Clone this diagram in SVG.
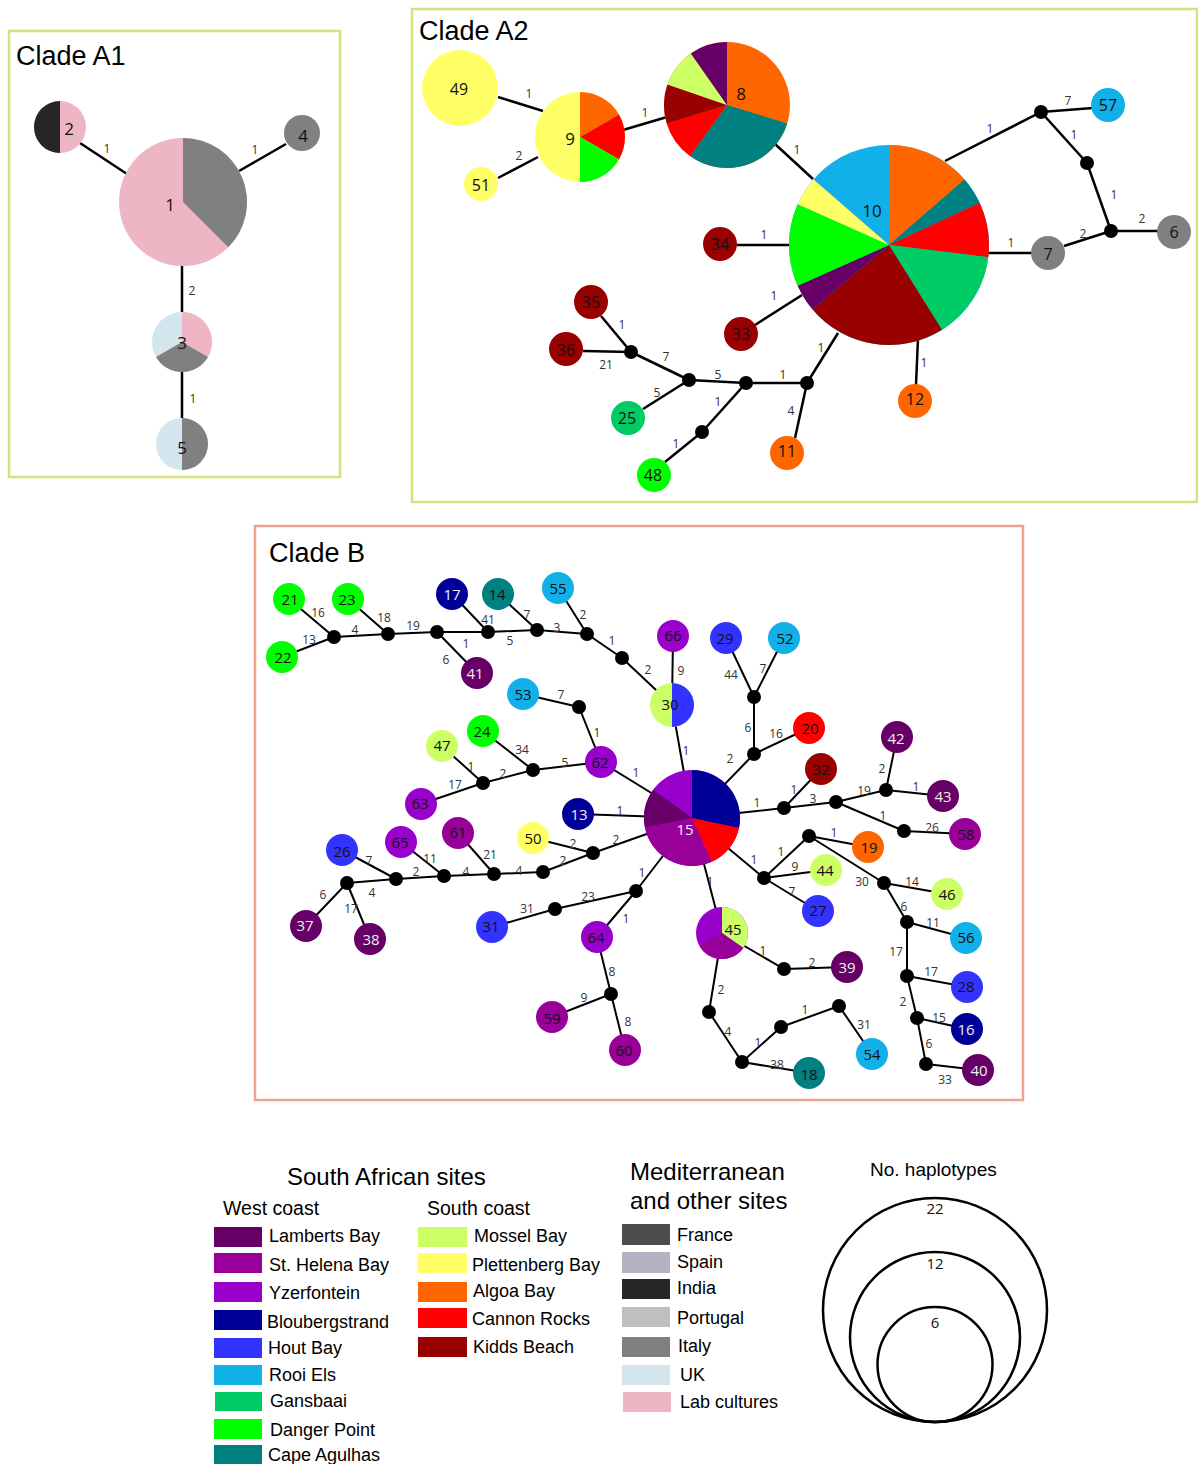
<svg xmlns="http://www.w3.org/2000/svg" width="1198" height="1464" viewBox="0 0 1198 1464">
<style>
.e{stroke:#000;stroke-width:2.5;fill:none}
.eb{stroke:#000;stroke-width:2;fill:none}
.j{fill:#000}
.lb{font-family:"Open Sans",sans-serif;font-size:12px;fill:#333;text-anchor:middle;dominant-baseline:central}
.nl{font-family:"Open Sans",sans-serif;font-size:15px;fill:#111;text-anchor:middle;dominant-baseline:central}
.nw{fill:#eee}
.tt{font-family:"Liberation Sans",Arial,sans-serif;font-size:27px;fill:#000}
.lg{font-family:"Liberation Sans",Arial,sans-serif;font-size:18px;fill:#000}
.lh{font-family:"Liberation Sans",Arial,sans-serif;font-size:24px;fill:#000}
.ls{font-family:"Liberation Sans",Arial,sans-serif;font-size:19.5px;fill:#000}
.boxA{fill:none;stroke:#D4E27A;stroke-width:2.5}
.boxB{fill:none;stroke:#EFA38B;stroke-width:2.5}
.LB{fill:#660066}.SH{fill:#990099}.YZ{fill:#9900CC}.BL{fill:#000099}.HB{fill:#3333FF}.RE{fill:#12B0E8}.GA{fill:#00CC66}.DP{fill:#00FF00}.CA{fill:#008080}
.MB{fill:#CCFF66}.PB{fill:#FFFF66}.AB{fill:#FF6600}.CR{fill:#FF0000}.KB{fill:#990000}
.FR{fill:#4D4D4D}.SP{fill:#B3B3C3}.IN{fill:#262626}.PT{fill:#BFBFBF}.IT{fill:#808080}.UK{fill:#D3E6EE}.LC{fill:#EEB5C5}
.sc{fill:none;stroke:#000;stroke-width:2.5}
</style>

<rect class="boxA" x="9" y="31" width="331" height="446"/>
<rect class="boxA" x="412" y="9" width="785" height="493"/>
<rect class="boxB" x="255" y="526" width="768" height="574"/>
<text class="tt" x="16" y="65">Clade A1</text>
<text class="tt" x="419" y="40">Clade A2</text>
<text class="tt" x="269" y="562">Clade B</text>

<g id="connectors">
<!-- A1 -->
<line class="e" x1="80" y1="143" x2="127" y2="174"/>
<line class="e" x1="239" y1="171" x2="286" y2="144"/>
<line class="e" x1="182" y1="264" x2="182" y2="312"/>
<line class="e" x1="182" y1="372" x2="182" y2="418"/>
<!-- A2 -->
<line class="e" x1="498" y1="97" x2="543" y2="111"/>
<line class="e" x1="498" y1="178" x2="538" y2="157"/>
<line class="e" x1="623" y1="130" x2="667" y2="117"/>
<line class="e" x1="775" y1="144" x2="813" y2="179"/>
<line class="e" x1="945" y1="161" x2="1041" y2="112"/>
<line class="e" x1="1041" y1="112" x2="1093" y2="108"/>
<line class="e" x1="1041" y1="112" x2="1087" y2="163"/>
<line class="e" x1="1087" y1="163" x2="1111" y2="231"/>
<line class="e" x1="1111" y1="231" x2="1160" y2="231"/>
<line class="e" x1="1111" y1="231" x2="1064" y2="246"/>
<line class="e" x1="985" y1="253" x2="1034" y2="253"/>
<line class="e" x1="737" y1="245" x2="792" y2="245"/>
<line class="e" x1="755" y1="325" x2="802" y2="295"/>
<line class="e" x1="918" y1="338" x2="916" y2="385"/>
<line class="e" x1="838" y1="333" x2="807" y2="383"/>
<line class="e" x1="807" y1="383" x2="795" y2="438"/>
<line class="e" x1="807" y1="383" x2="746" y2="383"/>
<line class="e" x1="746" y1="383" x2="689" y2="380"/>
<line class="e" x1="746" y1="383" x2="702" y2="432"/>
<line class="e" x1="702" y1="432" x2="665" y2="462"/>
<line class="e" x1="689" y1="380" x2="643" y2="409"/>
<line class="e" x1="689" y1="380" x2="631" y2="352"/>
<line class="e" x1="631" y1="352" x2="601" y2="316"/>
<line class="e" x1="631" y1="352" x2="583" y2="351"/>
<!-- B -->
<path class="eb" d="M289,599L334,637M282,657L334,637M334,637L388,634M348,599L388,634M388,634L437,632M437,632L477,673M437,632L488,632M452,594L488,632M488,632L537,630M498,594L537,630M537,630L587,634M558,588L587,634M587,634L622,658M622,658L672,705M673,636L672,705M672,705L692,818"/>
<path class="eb" d="M523,694L579,707M579,707L601,762M483,731L533,770M533,770L601,762M483,783L533,770M442,746L483,783M483,783L421,804M601,762L692,818"/>
<path class="eb" d="M692,818L754,754M754,754L754,697M754,697L726,638M754,697L784,638M754,754L809,728M692,818L784,808M784,808L821,769M784,808L836,802M836,802L886,790M886,790L897,737M886,790L943,796M836,802L904,831M904,831L965,834"/>
<path class="eb" d="M578,814L692,818M593,853L692,818M533,838L593,853M543,872L593,853M494,874L543,872M458,833L494,874M444,876L494,874M401,842L444,876M396,879L444,876M342,850L396,879M347,883L396,879M347,883L306,926M347,883L370,939"/>
<path class="eb" d="M692,818L636,891M636,891L555,909M555,909L492,927M636,891L597,937M597,937L611,994M611,994L552,1017M611,994L625,1050"/>
<path class="eb" d="M692,818L764,878M764,878L809,836M809,836L868,847M764,878L826,870M764,878L818,911M809,836L884,883M884,883L947,894M884,883L907,922M907,922L966,938M907,922L907,976M907,976L967,987M907,976L917,1018M917,1018L967,1029M917,1018L926,1064M926,1064L978,1070"/>
<path class="eb" d="M692,818L722,933M722,933L784,969M784,969L847,967M722,933L709,1012M709,1012L742,1062M742,1062L809,1073M742,1062L781,1027M781,1027L839,1006M839,1006L872,1054"/>

<!-- edge labels A1 -->
<text class="lb" x="107" y="148">1</text>
<text class="lb" x="255" y="149">1</text>
<text class="lb" x="192" y="290">2</text>
<text class="lb" x="193" y="398">1</text>
<!-- edge labels A2 -->
<text class="lb" x="529" y="93">1</text>
<text class="lb" x="519" y="155">2</text>
<text class="lb" x="645" y="112">1</text>
<text class="lb" x="797" y="149">1</text>
<text class="lb" x="990" y="128">1</text>
<text class="lb" x="1068" y="100">7</text>
<text class="lb" x="1074" y="134">1</text>
<text class="lb" x="1114" y="194">1</text>
<text class="lb" x="1142" y="218">2</text>
<text class="lb" x="1083" y="233">2</text>
<text class="lb" x="1011" y="242">1</text>
<text class="lb" x="764" y="234">1</text>
<text class="lb" x="774" y="295">1</text>
<text class="lb" x="924" y="362">1</text>
<text class="lb" x="821" y="347">1</text>
<text class="lb" x="791" y="410">4</text>
<text class="lb" x="783" y="374">1</text>
<text class="lb" x="718" y="374">5</text>
<text class="lb" x="718" y="401">1</text>
<text class="lb" x="676" y="443">1</text>
<text class="lb" x="657" y="392">5</text>
<text class="lb" x="666" y="356">7</text>
<text class="lb" x="622" y="324">1</text>
<text class="lb" x="606" y="364">21</text>
<!-- edge labels B -->
<text class="lb" x="318" y="612">16</text>
<text class="lb" x="309" y="639">13</text>
<text class="lb" x="355" y="629">4</text>
<text class="lb" x="384" y="617">18</text>
<text class="lb" x="413" y="625">19</text>
<text class="lb" x="488" y="619">41</text>
<text class="lb" x="527" y="614">7</text>
<text class="lb" x="557" y="627">3</text>
<text class="lb" x="583" y="614">2</text>
<text class="lb" x="466" y="643">1</text>
<text class="lb" x="510" y="640">5</text>
<text class="lb" x="446" y="659">6</text>
<text class="lb" x="612" y="640">1</text>
<text class="lb" x="648" y="669">2</text>
<text class="lb" x="561" y="694">7</text>
<text class="lb" x="597" y="732">1</text>
<text class="lb" x="522" y="749">34</text>
<text class="lb" x="565" y="762">5</text>
<text class="lb" x="471" y="766">1</text>
<text class="lb" x="503" y="773">2</text>
<text class="lb" x="455" y="784">17</text>
<text class="lb" x="636" y="772">1</text>
<text class="lb" x="681" y="670">9</text>
<text class="lb" x="731" y="674">44</text>
<text class="lb" x="763" y="668">7</text>
<text class="lb" x="748" y="727">6</text>
<text class="lb" x="776" y="733">16</text>
<text class="lb" x="730" y="758">2</text>
<text class="lb" x="686" y="750">1</text>
<text class="lb" x="757" y="802">1</text>
<text class="lb" x="794" y="789">1</text>
<text class="lb" x="813" y="798">3</text>
<text class="lb" x="864" y="790">19</text>
<text class="lb" x="882" y="768">2</text>
<text class="lb" x="916" y="786">1</text>
<text class="lb" x="883" y="815">1</text>
<text class="lb" x="932" y="827">26</text>
<text class="lb" x="620" y="810">1</text>
<text class="lb" x="616" y="839">2</text>
<text class="lb" x="573" y="843">2</text>
<text class="lb" x="563" y="860">2</text>
<text class="lb" x="519" y="870">4</text>
<text class="lb" x="490" y="854">21</text>
<text class="lb" x="466" y="871">4</text>
<text class="lb" x="430" y="858">11</text>
<text class="lb" x="416" y="871">2</text>
<text class="lb" x="369" y="860">7</text>
<text class="lb" x="372" y="892">4</text>
<text class="lb" x="323" y="894">6</text>
<text class="lb" x="351" y="908">17</text>
<text class="lb" x="642" y="872">1</text>
<text class="lb" x="588" y="896">23</text>
<text class="lb" x="527" y="908">31</text>
<text class="lb" x="626" y="918">1</text>
<text class="lb" x="612" y="971">8</text>
<text class="lb" x="584" y="997">9</text>
<text class="lb" x="628" y="1021">8</text>
<text class="lb" x="754" y="859">1</text>
<text class="lb" x="781" y="851">1</text>
<text class="lb" x="834" y="832">1</text>
<text class="lb" x="795" y="866">9</text>
<text class="lb" x="792" y="891">7</text>
<text class="lb" x="862" y="881">30</text>
<text class="lb" x="912" y="881">14</text>
<text class="lb" x="904" y="906">6</text>
<text class="lb" x="933" y="922">11</text>
<text class="lb" x="896" y="951">17</text>
<text class="lb" x="931" y="971">17</text>
<text class="lb" x="903" y="1001">2</text>
<text class="lb" x="939" y="1017">15</text>
<text class="lb" x="929" y="1043">6</text>
<text class="lb" x="945" y="1079">33</text>
<text class="lb" x="710" y="881">1</text>
<text class="lb" x="763" y="950">1</text>
<text class="lb" x="812" y="962">2</text>
<text class="lb" x="721" y="989">2</text>
<text class="lb" x="728" y="1031">4</text>
<text class="lb" x="758" y="1042">1</text>
<text class="lb" x="777" y="1064">38</text>
<text class="lb" x="805" y="1009">1</text>
<text class="lb" x="864" y="1024">31</text>
</g>

<!-- junctions -->
<g id="junctions">
<circle class="j" cx="1041" cy="112" r="7"/><circle class="j" cx="1087" cy="163" r="7"/><circle class="j" cx="1111" cy="231" r="7"/>
<circle class="j" cx="807" cy="383" r="7"/><circle class="j" cx="746" cy="383" r="7"/><circle class="j" cx="689" cy="380" r="7"/><circle class="j" cx="702" cy="432" r="7"/><circle class="j" cx="631" cy="352" r="7"/>
<circle class="j" cx="334" cy="637" r="7"/><circle class="j" cx="388" cy="634" r="7"/><circle class="j" cx="437" cy="632" r="7"/><circle class="j" cx="488" cy="632" r="7"/><circle class="j" cx="537" cy="630" r="7"/><circle class="j" cx="587" cy="634" r="7"/><circle class="j" cx="622" cy="658" r="7"/>
<circle class="j" cx="579" cy="707" r="7"/><circle class="j" cx="533" cy="770" r="7"/><circle class="j" cx="483" cy="783" r="7"/>
<circle class="j" cx="754" cy="697" r="7"/><circle class="j" cx="754" cy="754" r="7"/><circle class="j" cx="784" cy="808" r="7"/><circle class="j" cx="836" cy="802" r="7"/><circle class="j" cx="886" cy="790" r="7"/><circle class="j" cx="904" cy="831" r="7"/>
<circle class="j" cx="593" cy="853" r="7"/><circle class="j" cx="543" cy="872" r="7"/><circle class="j" cx="494" cy="874" r="7"/><circle class="j" cx="444" cy="876" r="7"/><circle class="j" cx="396" cy="879" r="7"/><circle class="j" cx="347" cy="883" r="7"/>
<circle class="j" cx="636" cy="891" r="7"/><circle class="j" cx="555" cy="909" r="7"/><circle class="j" cx="611" cy="994" r="7"/>
<circle class="j" cx="764" cy="878" r="7"/><circle class="j" cx="809" cy="836" r="7"/><circle class="j" cx="884" cy="883" r="7"/><circle class="j" cx="907" cy="922" r="7"/><circle class="j" cx="907" cy="976" r="7"/><circle class="j" cx="917" cy="1018" r="7"/><circle class="j" cx="926" cy="1064" r="7"/>
<circle class="j" cx="784" cy="969" r="7"/><circle class="j" cx="709" cy="1012" r="7"/><circle class="j" cx="742" cy="1062" r="7"/><circle class="j" cx="781" cy="1027" r="7"/><circle class="j" cx="839" cy="1006" r="7"/>
</g>

<!-- Clade A1 nodes -->
<g id="n1"><circle class="LC" cx="183" cy="202" r="64"/><path class="IT" d="M183,202L183,138A64,64 0 0 1 228.25,247.25Z"/><text class="nl" x="170" y="204" style="font-size:17px">1</text></g>
<g id="n2"><circle class="LC" cx="60" cy="127" r="26"/><path class="IN" d="M60,101A26,26 0 0 0 60,153Z"/><text class="nl" x="69" y="128" style="font-size:17px">2</text></g>
<g id="n4"><circle class="IT" cx="302" cy="133" r="18"/><text class="nl" x="303" y="135" style="font-size:17px">4</text></g>
<g id="n3"><circle class="UK" cx="182" cy="342" r="30"/><path class="LC" d="M182,342L182,312A30,30 0 0 1 207.98,357Z"/><path class="IT" d="M182,342L207.98,357A30,30 0 0 1 156.02,357Z"/><text class="nl" x="182" y="342" style="font-size:17px">3</text></g>
<g id="n5"><circle class="UK" cx="182" cy="444" r="26"/><path class="IT" d="M182,418A26,26 0 0 1 182,470Z"/><text class="nl" x="182" y="447" style="font-size:17px">5</text></g>

<!-- Clade A2 nodes -->
<g id="n49"><circle class="PB" cx="460" cy="88" r="38"/><text class="nl" x="459" y="89" style="font-size:16px">49</text></g>
<g id="n51"><circle class="PB" cx="481" cy="184" r="17"/><text class="nl" x="481" y="185" style="font-size:16px">51</text></g>
<g id="n9"><circle class="PB" cx="580" cy="137" r="45"/><path class="AB" d="M580,137L580,92A45,45 0 0 1 618.97,114.5Z"/><path class="CR" d="M580,137L618.97,114.5A45,45 0 0 1 618.97,159.5Z"/><path class="DP" d="M580,137L618.97,159.5A45,45 0 0 1 580,182Z"/><text class="nl" x="570" y="138" style="font-size:17px">9</text></g>
<g id="n8"><circle class="AB" cx="727" cy="105" r="63"/>
<path class="CA" d="M727,105L787.25,123.42A63,63 0 0 1 689.97,155.97Z"/>
<path class="CR" d="M727,105L689.97,155.97A63,63 0 0 1 666.75,123.42Z"/>
<path class="KB" d="M727,105L666.75,123.42A63,63 0 0 1 667.43,84.49Z"/>
<path class="MB" d="M727,105L667.43,84.49A63,63 0 0 1 690.86,53.39Z"/>
<path class="LB" d="M727,105L690.86,53.39A63,63 0 0 1 727,42Z"/>
<text class="nl" x="741" y="93" style="font-size:17px">8</text></g>
<g id="n10"><circle class="RE" cx="889" cy="245" r="100"/>
<path class="AB" d="M889,245L889,145A100,100 0 0 1 964.47,179.39Z"/>
<path class="CA" d="M889,245L964.47,179.39A100,100 0 0 1 979.63,202.74Z"/>
<path class="CR" d="M889,245L979.63,202.74A100,100 0 0 1 988.25,257.19Z"/>
<path class="GA" d="M889,245L988.25,257.19A100,100 0 0 1 941.99,329.8Z"/>
<path class="KB" d="M889,245L941.99,329.8A100,100 0 0 1 812.4,309.28Z"/>
<path class="LB" d="M889,245L812.4,309.28A100,100 0 0 1 797.65,285.67Z"/>
<path class="DP" d="M889,245L797.65,285.67A100,100 0 0 1 797.65,204.33Z"/>
<path class="PB" d="M889,245L797.65,204.33A100,100 0 0 1 813.53,179.39Z"/>
<text class="nl" x="872" y="210" style="font-size:17px">10</text></g>
<g id="n57"><circle class="RE" cx="1108" cy="105" r="17"/><text class="nl" x="1108" y="105" style="font-size:16px">57</text></g>
<g id="n6"><circle class="IT" cx="1174" cy="232" r="17"/><text class="nl" x="1174" y="232" style="font-size:16px">6</text></g>
<g id="n7"><circle class="IT" cx="1048" cy="253" r="17"/><text class="nl" x="1048" y="254" style="font-size:16px">7</text></g>
<g id="n34"><circle class="KB" cx="720" cy="244" r="17"/><text class="nl" x="720" y="244" style="font-size:16px">34</text></g>
<g id="n33"><circle class="KB" cx="741" cy="334" r="17"/><text class="nl" x="741" y="334" style="font-size:16px">33</text></g>
<g id="n12"><circle class="AB" cx="915" cy="401" r="17"/><text class="nl" x="915" y="399" style="font-size:16px">12</text></g>
<g id="n11"><circle class="AB" cx="787" cy="453" r="17"/><text class="nl" x="787" y="451" style="font-size:16px">11</text></g>
<g id="n48"><circle class="DP" cx="654" cy="475" r="17"/><text class="nl" x="653" y="475" style="font-size:16px">48</text></g>
<g id="n25"><circle class="GA" cx="628" cy="418" r="17"/><text class="nl" x="627" y="418" style="font-size:16px">25</text></g>
<g id="n35"><circle class="KB" cx="591" cy="302" r="17"/><text class="nl" x="591" y="302" style="font-size:16px">35</text></g>
<g id="n36"><circle class="KB" cx="566" cy="349" r="17"/><text class="nl" x="566" y="350" style="font-size:16px">36</text></g>

<!-- Clade B nodes -->
<g id="n21"><circle class="DP" cx="289" cy="599" r="16"/><text class="nl" x="290" y="599">21</text></g>
<g id="n23"><circle class="DP" cx="348" cy="599" r="16"/><text class="nl" x="347" y="599">23</text></g>
<g id="n22"><circle class="DP" cx="282" cy="657" r="16"/><text class="nl" x="283" y="657">22</text></g>
<g id="n17"><circle class="BL" cx="452" cy="594" r="16"/><text class="nl nw" x="452" y="594">17</text></g>
<g id="n14"><circle class="CA" cx="498" cy="594" r="16"/><text class="nl" x="497" y="594">14</text></g>
<g id="n55"><circle class="RE" cx="558" cy="588" r="16"/><text class="nl" x="558" y="588">55</text></g>
<g id="n41"><circle class="LB" cx="477" cy="673" r="16"/><text class="nl nw" x="475" y="673">41</text></g>
<g id="n53"><circle class="RE" cx="523" cy="694" r="16"/><text class="nl" x="523" y="694">53</text></g>
<g id="n24"><circle class="DP" cx="483" cy="731" r="16"/><text class="nl" x="482" y="731">24</text></g>
<g id="n47"><circle class="MB" cx="442" cy="746" r="16"/><text class="nl" x="442" y="745">47</text></g>
<g id="n62"><circle class="YZ" cx="601" cy="762" r="16"/><text class="nl" x="600" y="762">62</text></g>
<g id="n63"><circle class="YZ" cx="421" cy="804" r="16"/><text class="nl" x="420" y="803">63</text></g>
<g id="n66"><circle class="YZ" cx="673" cy="636" r="16"/><text class="nl" x="673" y="635">66</text></g>
<g id="n30"><circle class="MB" cx="672" cy="705" r="22"/><path class="HB" d="M672,683A22,22 0 0 1 672,727Z"/><text class="nl" x="670" y="704">30</text></g>
<g id="n29"><circle class="HB" cx="726" cy="638" r="16"/><text class="nl" x="725" y="638">29</text></g>
<g id="n52"><circle class="RE" cx="784" cy="638" r="16"/><text class="nl" x="785" y="638">52</text></g>
<g id="n20"><circle class="CR" cx="809" cy="728" r="16"/><text class="nl" x="810" y="728">20</text></g>
<g id="n32"><circle class="KB" cx="821" cy="769" r="16"/><text class="nl" x="821" y="769">32</text></g>
<g id="n42"><circle class="LB" cx="897" cy="737" r="16"/><text class="nl nw" x="896" y="738">42</text></g>
<g id="n43"><circle class="LB" cx="943" cy="796" r="16"/><text class="nl nw" x="943" y="796">43</text></g>
<g id="n58"><circle class="SH" cx="965" cy="834" r="16"/><text class="nl" x="966" y="834">58</text></g>
<g id="n15"><circle class="YZ" cx="692" cy="818" r="48"/>
<path class="BL" d="M692,818L692,770A48,48 0 0 1 738.95,827.98Z"/>
<path class="CR" d="M692,818L738.95,827.98A48,48 0 0 1 711.52,861.85Z"/>
<path class="SH" d="M692,818L711.52,861.85A48,48 0 0 1 644.88,827.16Z"/>
<path class="LB" d="M692,818L644.88,827.16A48,48 0 0 1 653.17,789.79Z"/>
<text class="nl nw" x="685" y="829">15</text></g>
<g id="n13"><circle class="BL" cx="578" cy="814" r="16"/><text class="nl nw" x="579" y="814">13</text></g>
<g id="n50"><circle class="PB" cx="533" cy="838" r="16"/><text class="nl" x="533" y="838">50</text></g>
<g id="n61"><circle class="SH" cx="458" cy="833" r="16"/><text class="nl" x="458" y="832">61</text></g>
<g id="n65"><circle class="YZ" cx="401" cy="842" r="16"/><text class="nl" x="400" y="842">65</text></g>
<g id="n26"><circle class="HB" cx="342" cy="850" r="16"/><text class="nl" x="342" y="851">26</text></g>
<g id="n37"><circle class="LB" cx="306" cy="926" r="16"/><text class="nl nw" x="305" y="925">37</text></g>
<g id="n38"><circle class="LB" cx="370" cy="939" r="16"/><text class="nl nw" x="371" y="939">38</text></g>
<g id="n31"><circle class="HB" cx="492" cy="927" r="16"/><text class="nl" x="491" y="926">31</text></g>
<g id="n64"><circle class="YZ" cx="597" cy="937" r="16"/><text class="nl" x="596" y="937">64</text></g>
<g id="n59"><circle class="SH" cx="552" cy="1017" r="16"/><text class="nl" x="552" y="1018">59</text></g>
<g id="n60"><circle class="SH" cx="625" cy="1050" r="16"/><text class="nl" x="624" y="1050">60</text></g>
<g id="n19"><circle class="AB" cx="868" cy="847" r="16"/><text class="nl" x="869" y="847">19</text></g>
<g id="n44"><circle class="MB" cx="826" cy="870" r="16"/><text class="nl" x="825" y="870">44</text></g>
<g id="n27"><circle class="HB" cx="818" cy="911" r="16"/><text class="nl" x="818" y="910">27</text></g>
<g id="n46"><circle class="MB" cx="947" cy="894" r="16"/><text class="nl" x="947" y="894">46</text></g>
<g id="n56"><circle class="RE" cx="966" cy="938" r="16"/><text class="nl" x="966" y="937">56</text></g>
<g id="n28"><circle class="HB" cx="967" cy="987" r="16"/><text class="nl" x="966" y="986">28</text></g>
<g id="n16"><circle class="BL" cx="967" cy="1029" r="16"/><text class="nl nw" x="966" y="1029">16</text></g>
<g id="n40"><circle class="LB" cx="978" cy="1070" r="16"/><text class="nl nw" x="979" y="1070">40</text></g>
<g id="n45"><circle class="YZ" cx="722" cy="933" r="26"/><path class="MB" d="M722,933L722,907A26,26 0 0 1 743.3,947.91Z"/><path class="SH" d="M722,933L743.3,947.91A26,26 0 0 1 699.48,946Z"/><text class="nl" x="733" y="929">45</text></g>
<g id="n39"><circle class="LB" cx="847" cy="967" r="16"/><text class="nl nw" x="847" y="967">39</text></g>
<g id="n18"><circle class="CA" cx="809" cy="1073" r="16"/><text class="nl" x="809" y="1074">18</text></g>
<g id="n54"><circle class="RE" cx="872" cy="1054" r="16"/><text class="nl" x="872" y="1054">54</text></g>

<!-- Legend -->
<g id="legend">
<text class="lh" x="287" y="1185">South African sites</text>
<text class="ls" x="223" y="1215">West coast</text>
<text class="ls" x="427" y="1215">South coast</text>
<rect class="LB" x="214" y="1227" width="48" height="20"/><text class="lg" x="269" y="1242">Lamberts Bay</text>
<rect class="SH" x="214" y="1253" width="48" height="20"/><text class="lg" x="269" y="1271">St. Helena Bay</text>
<rect class="YZ" x="214" y="1282" width="48" height="20"/><text class="lg" x="269" y="1299">Yzerfontein</text>
<rect class="BL" x="214" y="1310" width="48" height="20"/><text class="lg" x="267" y="1328">Bloubergstrand</text>
<rect class="HB" x="214" y="1338" width="48" height="20"/><text class="lg" x="268" y="1354">Hout Bay</text>
<rect class="RE" x="214" y="1365" width="48" height="20"/><text class="lg" x="269" y="1381">Rooi Els</text>
<rect class="GA" x="215" y="1392" width="47" height="19"/><text class="lg" x="270" y="1407">Gansbaai</text>
<rect class="DP" x="214" y="1419" width="48" height="20"/><text class="lg" x="270" y="1436">Danger Point</text>
<rect class="CA" x="214" y="1445" width="48" height="19"/><text class="lg" x="268" y="1461">Cape Agulhas</text>
<rect class="MB" x="418" y="1227" width="49" height="20"/><text class="lg" x="474" y="1242">Mossel Bay</text>
<rect class="PB" x="418" y="1253" width="49" height="20"/><text class="lg" x="472" y="1271">Plettenberg Bay</text>
<rect class="AB" x="418" y="1282" width="49" height="20"/><text class="lg" x="473" y="1297">Algoa Bay</text>
<rect class="CR" x="418" y="1308" width="49" height="20"/><text class="lg" x="472" y="1325">Cannon Rocks</text>
<rect class="KB" x="418" y="1337" width="49" height="20"/><text class="lg" x="473" y="1353">Kidds Beach</text>
<text class="lh" x="630" y="1180">Mediterranean</text>
<text class="lh" x="630" y="1209">and other sites</text>
<rect class="FR" x="622" y="1224" width="48" height="21"/><text class="lg" x="677" y="1241">France</text>
<rect class="SP" x="622" y="1252" width="48" height="21"/><text class="lg" x="677" y="1268">Spain</text>
<rect class="IN" x="622" y="1279" width="48" height="20"/><text class="lg" x="677" y="1294">India</text>
<rect class="PT" x="622" y="1307" width="48" height="20"/><text class="lg" x="677" y="1324">Portugal</text>
<rect class="IT" x="622" y="1337" width="48" height="20"/><text class="lg" x="678" y="1352">Italy</text>
<rect class="UK" x="622" y="1365" width="48" height="20"/><text class="lg" x="680" y="1381">UK</text>
<rect class="LC" x="623" y="1392" width="48" height="20"/><text class="lg" x="680" y="1408">Lab cultures</text>
<text class="ls" x="870" y="1176" style="font-size:19px">No. haplotypes</text>
<circle class="sc" cx="935" cy="1310" r="112"/>
<circle class="sc" cx="935" cy="1337" r="85"/>
<circle class="sc" cx="935" cy="1364.5" r="57.5"/>
<text class="lb" x="935" y="1208" style="font-size:15px;fill:#111">22</text>
<text class="lb" x="935" y="1263" style="font-size:15px;fill:#111">12</text>
<text class="lb" x="935" y="1322" style="font-size:15px;fill:#111">6</text>
</g>
</svg>
